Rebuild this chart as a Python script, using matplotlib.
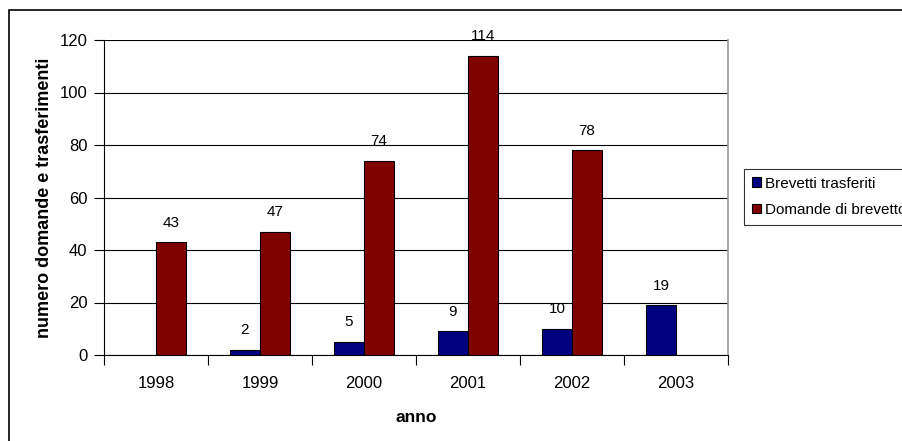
import numpy as np
import matplotlib
matplotlib.use("Agg")
import matplotlib.pyplot as plt
from matplotlib.patches import Rectangle

plt.rcParams['font.family'] = ['Liberation Sans', 'DejaVu Sans']

# data (None = no bar)
anni = ['1998', '1999', '2000', '2001', '2002', '2003']
brevetti_trasferiti = [None, 2, 5, 9, 10, 19]
domande_brevetto = [43, 47, 74, 114, 78, None]
y_ticks = [0, 20, 40, 60, 80, 100, 120]

BLUE = '#000080'
RED = '#800000'


def draw_series(ax, x, values, color, label):
    xs = [xi for xi, v in zip(x, values) if v is not None]
    vs = [v for v in values if v is not None]
    ax.bar(xs, vs, width=0.29, color=color, edgecolor='black',
           linewidth=0.8, label=label, zorder=3)
    for xi, v in zip(xs, vs):
        ax.annotate(str(v), (xi, v), xytext=(0, 14), textcoords='offset points',
                    ha='center', va='center', fontsize=11, zorder=4)


fig = plt.figure(figsize=(9.03, 4.41), dpi=100)

# outer chart frame (runs off the right and bottom edge)
fig.patches.append(Rectangle((9 / 903, -0.1), 1.2, 1.1 - 10.5 / 441,
                             transform=fig.transFigure, fill=False,
                             edgecolor='black', linewidth=1.2))

ax = fig.add_axes([104 / 903, 1 - 355 / 441, 624 / 903, 315 / 441])

x = np.arange(len(anni))
draw_series(ax, x - 0.145, brevetti_trasferiti, BLUE, 'Brevetti trasferiti')
draw_series(ax, x + 0.145, domande_brevetto, RED, 'Domande di brevetto')

ax.set_xlim(-0.5, len(anni) - 0.5)
ax.set_ylim(0, 120)
ax.set_yticks(y_ticks)
ax.yaxis.grid(True, color='black', linewidth=0.8, zorder=0)

ax.set_xticks(x)
ax.set_xticklabels(anni, fontsize=12)
ax.set_xticks(np.arange(len(anni) + 1) - 0.5, minor=True)
ax.tick_params(axis='x', which='major', length=0, pad=15)
ax.tick_params(axis='x', which='minor', length=7, width=0.8, direction='out')
ax.tick_params(axis='y', length=7, width=0.8, direction='out', labelsize=12, pad=5)

for side in ['left', 'bottom']:
    ax.spines[side].set_color('black')
    ax.spines[side].set_linewidth(0.8)
ax.spines['top'].set_visible(False)
ax.spines['right'].set_color('#999999')
ax.spines['right'].set_linewidth(1.2)

ax.set_xlabel('anno', fontsize=12.5, fontweight='bold', labelpad=14)
ax.set_ylabel('numero domande e trasferimenti', fontsize=13, fontweight='bold',
              labelpad=5)

leg = fig.legend(loc='upper left', bbox_to_anchor=(744 / 903, 1 - 169 / 441),
                 fontsize=11, frameon=True, fancybox=False, edgecolor='black',
                 handlelength=0.6, handleheight=0.6, handletextpad=0.3,
                 labelspacing=0.8, borderpad=0.5, borderaxespad=0)
leg.get_frame().set_linewidth(0.8)

fig.savefig('out.png', dpi=100)
